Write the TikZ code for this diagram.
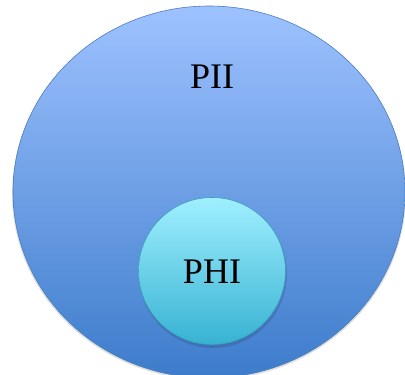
\documentclass[tikz,border=0pt]{standalone}
\usepackage{fontspec}
\setmainfont{Liberation Serif}
\usepackage{tikz}

\definecolor{piitop}{HTML}{9EC2FF}
\definecolor{piibot}{HTML}{3D7CCB}
\definecolor{piiline}{HTML}{4A7EBB}
\definecolor{phitop}{HTML}{A0F0FF}
\definecolor{phibot}{HTML}{37B2D2}
\definecolor{philine}{HTML}{3C9EBC}

\begin{document}
\begin{tikzpicture}[x=1pt,y=-1pt,
        bigset/.style={draw=piiline, line width=0.6pt, top color=piitop, bottom color=piibot},
        smallset/.style={draw=philine, line width=0.6pt, top color=phitop, bottom color=phibot},
        setshadow/.style={black, opacity=0.12},
        setlabel/.style={font=\fontsize{36}{40}\selectfont, text=black, inner sep=0pt}]
        % Page
        \clip (0,0) rectangle (405,375);

        % Outer set
        \fill[setshadow] (209,194) ellipse [x radius=197, y radius=186];
        \draw[bigset] (209,192) ellipse [x radius=196, y radius=186];
        \node[setlabel] (pii) at (212,77) {PII};

        % Inner set, with a soft shadow
        \fill[setshadow] (213,274) circle [radius=74];
        \draw[smallset] (212,271) circle [radius=73.5];
        \node[setlabel] (phi) at (212,272) {PHI};
    \end{tikzpicture}
\end{document}
